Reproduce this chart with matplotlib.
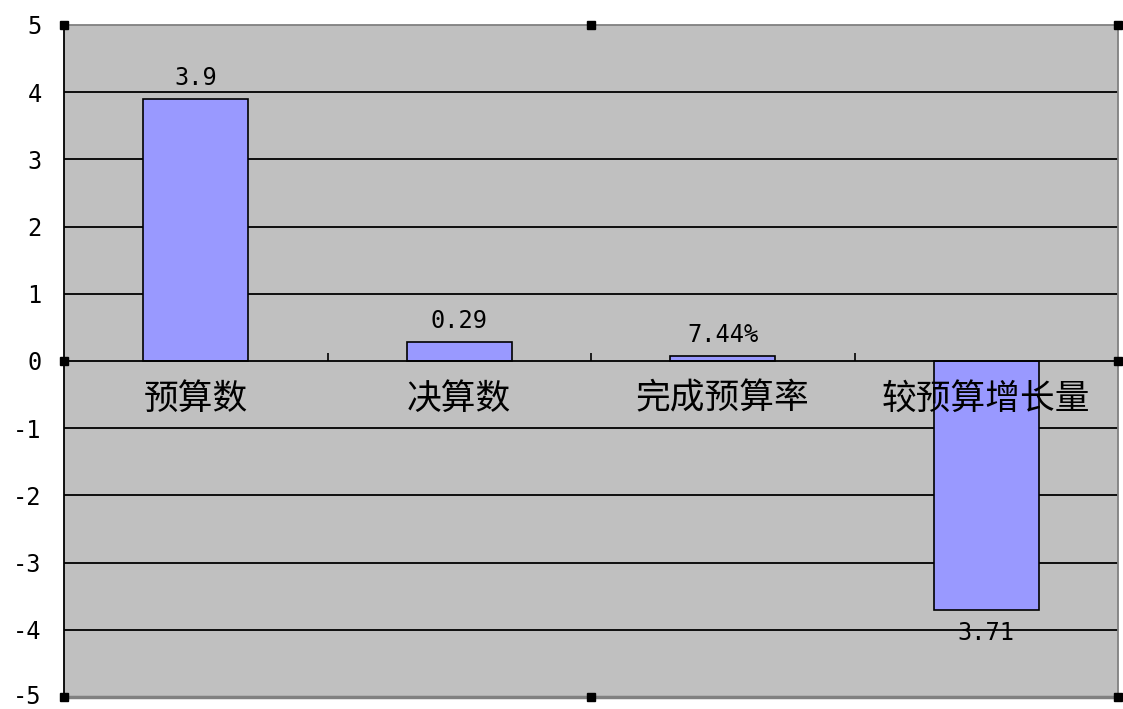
import matplotlib
matplotlib.use("Agg")
import matplotlib.pyplot as plt
import matplotlib.transforms as mtransforms
import numpy as np

plt.rcParams['font.family'] = ['Noto Sans CJK SC', 'DejaVu Sans']

categories = ['预算数', '决算数', '完成预算率', '较预算增长量']
values = [3.9, 0.29, 0.0744, -3.71]
value_labels = ['3.9', '0.29', '7.44%', '3.71']
yticks = [-5, -4, -3, -2, -1, 0, 1, 2, 3, 4, 5]

MONO = ['DejaVu Sans Mono']

fig = plt.figure(figsize=(11.23, 7.09), dpi=100)
ax = fig.add_axes([64/1123, 12/709, (1118-64)/1123, (697-25)/709])
ax.set_facecolor('#C0C0C0')

x = np.arange(len(categories))
ax.set_xlim(-0.5, len(categories) - 0.5)
ax.set_ylim(-5, 5)

for yv in yticks:
    if yv not in (-5, 0, 5):
        ax.axhline(yv, color='black', lw=1.3, zorder=1)

bars = ax.bar(x, values, width=0.4, color='#9999FF', edgecolor='black', lw=1.2, zorder=3)

for xi, v, lab in zip(x, values, value_labels):
    off = 15 if v >= 0 else -16
    ax.annotate(lab, (xi, v), xytext=(0, off), textcoords='offset points',
                ha='center', va='center', fontsize=17, family=MONO, zorder=5)

# spines
ax.spines['left'].set_color('black')
ax.spines['left'].set_linewidth(1.3)
ax.spines['bottom'].set_position(('data', 0))
ax.spines['bottom'].set_color('black')
ax.spines['bottom'].set_linewidth(1.3)
ax.spines['bottom'].set_zorder(4)
for s in ('top', 'right'):
    ax.spines[s].set_color('#808080')
    ax.spines[s].set_linewidth(1.3)
ax.axhline(-5, color='#808080', lw=2.5, zorder=4, clip_on=False)

ax.set_yticks(yticks)
ax.set_yticklabels([str(v) for v in yticks], fontsize=17, family=MONO)
ax.tick_params(axis='y', length=0, pad=16)

ax.set_xticks(x)
ax.set_xticklabels(categories, fontsize=25)
ax.tick_params(axis='x', which='major', length=0, pad=15)
ax.set_xticks(np.arange(0.5, len(categories) - 0.5, 1.0), minor=True)
ax.tick_params(axis='x', which='minor', direction='in', length=6, width=1.2, color='black')
ax.xaxis.set_zorder(6)

# nudge the lowest tick label slightly up so it stays inside the canvas
fig.canvas.draw()
lowest = ax.get_yticklabels()[0]
lowest.set_transform(lowest.get_transform() +
                     mtransforms.ScaledTranslation(0, 3/100, fig.dpi_scale_trans))

# selection handles
hx = [0, 0.5, 1, 0, 1, 0, 0.5, 1]
hy = [1, 1, 1, 0.5, 0.5, 0, 0, 0]
ax.plot(hx, hy, 's', color='black', ms=6, transform=ax.transAxes, clip_on=False, zorder=10)

fig.savefig('out.png', dpi=100, facecolor='white')
